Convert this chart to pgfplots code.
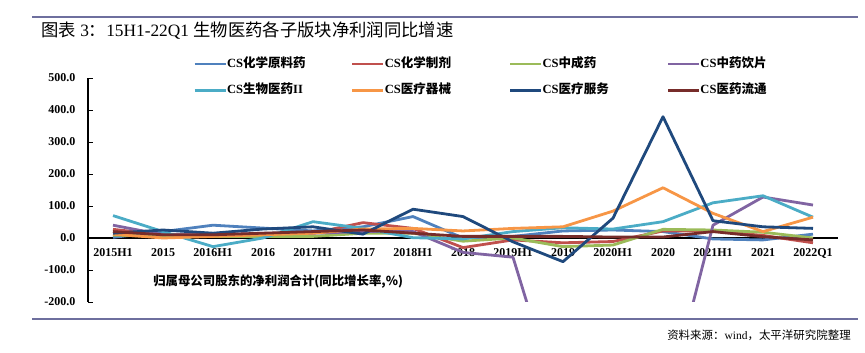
\documentclass[border=0pt]{standalone}
\usepackage{fontspec}
\setmainfont{Liberation Serif}
\newfontfamily\cjk{Noto Sans CJK SC}
\usepackage{pgfplots}
\usepackage{pgfplotstable}
\pgfplotsset{compat=1.18}

\definecolor{cA}{HTML}{4F81BD}
\definecolor{cB}{HTML}{C0504D}
\definecolor{cC}{HTML}{9BBB59}
\definecolor{cD}{HTML}{8064A2}
\definecolor{cE}{HTML}{4BACC6}
\definecolor{cF}{HTML}{F79646}
\definecolor{cG}{HTML}{1F497D}
\definecolor{cH}{HTML}{772C2A}
\definecolor{rule}{HTML}{6E6F9E}

\pgfplotstableread{
x A B C D E F G H
0 2 27 9 40 70 12 15 20
1 20 10 5 10 20 0 25 10
2 40 8 5 10 -27 5 15 10
3 31 12 5 15 0 10 28 15
4 22 15 5 15 51 15 35 20
5 35 48 15 20 30 28 12 25
6 67 30 15 20 1 30 90 15
7 0 -30 -10 -45 -3 22 67 5
8 5 -6 0 -60 20 30 -12 5
9 22 -15 -27 -570 32 35 -74 5
10 25 -11 -22 -600 28 84 62 3
11 20 22 27 -570 51 157 379 3
12 -3 22 25 40 110 77 54 20
13 -6 8 18 128 132 20 35 4
14 12 -15 0 103 65 65 30 -6
}\data

\begin{document}
\begin{tikzpicture}[x=0.75pt,y=0.75pt]
\path[use as bounding box] (0,0) rectangle (865,353);
\draw[rule, line width=1.5pt] (32,336) -- (858,336);
\draw[rule, line width=0.8pt] (32,34) -- (858,34);
\node[anchor=west, inner sep=0pt] at (41,322) {\fontsize{13}{15}\selectfont{\cjk 图表} 3{\cjk ：}15H1-22Q1 {\cjk 生物医药各子版块净利润同比增速}};
\node[anchor=east, inner sep=0pt] at (851,18) {\fontsize{8.6}{10}\selectfont{\cjk 资料来源：}wind{\cjk ，太平洋研究院整理}};
\begin{axis}[
  at={(66pt,38.25pt)}, anchor=south west,
  scale only axis, width=562.5pt, height=168pt,
  xmin=-0.5, xmax=14.5, ymin=-200, ymax=500,
  axis x line=middle, axis y line=left,
  axis line style={-, black, line width=0.8pt},
  xtick={0,...,14},
  xticklabels={2015H1,2015,2016H1,2016,2017H1,2017,2018H1,2018,2019H1,2019,2020H1,2020,2021H1,2021,2022Q1},
  x tick style={draw=none},
  minor xtick={0.5,1.5,...,14.5},
  minor x tick style={black, line width=0.6pt},
  minor tick length=3.5pt,
  ytick={-200,-100,...,500},
  y tick style={black, line width=0.6pt},
  major tick length=3.5pt,
  tick align=inside,
  xticklabel style={font=\bfseries\fontsize{9}{10}\selectfont, yshift=-4.5pt},
  yticklabel style={font=\bfseries\fontsize{9}{10}\selectfont, xshift=-6pt},
  /pgf/number format/.cd, fixed, fixed zerofill, precision=1, assume math mode=true, 1000 sep={},
  /pgfplots/.cd,
  clip=true,
  every axis plot/.append style={line width=2.1pt, no markers, line join=round},
  legend columns=4,
  legend cell align=left,
  legend image code/.code={\draw[#1, line width=2.1pt] (0pt,0pt) -- (23.25pt,0pt);},
  legend style={draw=none, fill=none, at={(0.1347,1.1025)}, anchor=north west,
    font=\bfseries\fontsize{9.4}{10}\selectfont,
    nodes={inner sep=0pt, text height=7pt, text depth=2pt},
    row sep=11pt,
    /tikz/every even column/.append style={column sep=3pt}},
]
\addplot[cA] table[x=x,y=A]{\data};
\addlegendentry{\makebox[90pt][l]{CS{\cjk\bfseries 化学原料药}}}
\addplot[cB] table[x=x,y=B]{\data};
\addlegendentry{\makebox[90pt][l]{CS{\cjk\bfseries 化学制剂}}}
\addplot[cC] table[x=x,y=C]{\data};
\addlegendentry{\makebox[90pt][l]{CS{\cjk\bfseries 中成药}}}
\addplot[cD] table[x=x,y=D]{\data};
\addlegendentry{\makebox[90pt][l]{CS{\cjk\bfseries 中药饮片}}}
\addplot[cE] table[x=x,y=E]{\data};
\addlegendentry{\makebox[90pt][l]{CS{\cjk\bfseries 生物医药}II}}
\addplot[cF] table[x=x,y=F]{\data};
\addlegendentry{\makebox[90pt][l]{CS{\cjk\bfseries 医疗器械}}}
\addplot[cG] table[x=x,y=G]{\data};
\addlegendentry{\makebox[90pt][l]{CS{\cjk\bfseries 医疗服务}}}
\addplot[cH] table[x=x,y=H]{\data};
\addlegendentry{\makebox[90pt][l]{CS{\cjk\bfseries 医药流通}}}
\end{axis}
\node[anchor=west, inner sep=0pt] at (153,71) {\fontsize{9.3}{10}\selectfont\cjk\bfseries 归属母公司股东的净利润合计(同比增长率,\%)};
\end{tikzpicture}
\end{document}
